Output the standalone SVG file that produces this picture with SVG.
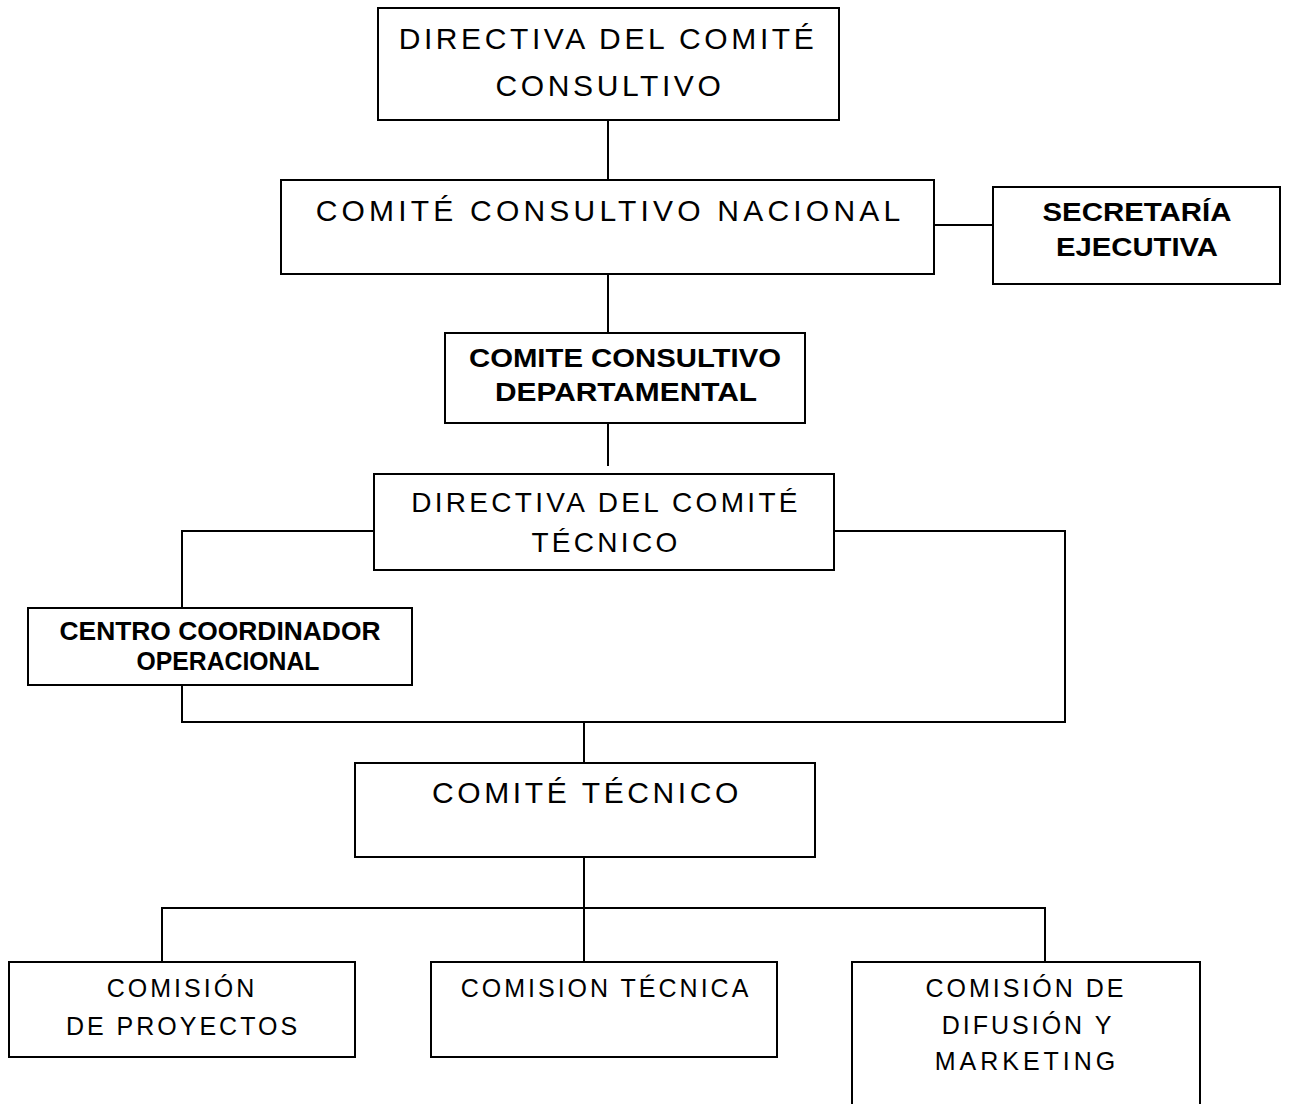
<svg xmlns="http://www.w3.org/2000/svg" width="1290" height="1104" viewBox="0 0 1290 1104">
<style>
.box{fill:#fff;stroke:#000;stroke-width:2}
.ln{fill:none;stroke:#000;stroke-width:2}
.t{font-family:"Liberation Sans",Arial,sans-serif;fill:#000;text-anchor:middle}
.r30{font-size:30px;letter-spacing:3.6px}
.r28{font-size:28px;letter-spacing:3.3px}
.r25{font-size:25px;letter-spacing:3px}
.b{font-family:"Liberation Sans Narrow","Arial Narrow","Liberation Sans",sans-serif;font-weight:bold;font-size:26px;fill:#000;text-anchor:middle}
</style>
<rect width="1290" height="1104" fill="#fff"/>
<g id="connectors">
<line class="ln" x1="608" y1="120" x2="608" y2="180"/>
<line class="ln" x1="934" y1="225" x2="993" y2="225"/>
<line class="ln" x1="608" y1="274" x2="608" y2="333"/>
<line class="ln" x1="608" y1="423" x2="608" y2="466"/>
<polyline class="ln" points="374,531 182,531 182,608"/>
<polyline class="ln" points="182,685 182,722 1065,722 1065,531 834,531"/>
<line class="ln" x1="584" y1="722" x2="584" y2="763"/>
<line class="ln" x1="584" y1="857" x2="584" y2="965"/>
<polyline class="ln" points="162,965 162,908 1045,908 1045,965"/>
</g>
<g id="directiva-consultivo">
<rect class="box" x="378" y="8" width="461" height="112"/>
<text class="t r30" x="608" y="49">DIRECTIVA DEL COMITÉ</text>
<text class="t r30" x="610" y="96">CONSULTIVO</text>
</g>
<g id="comite-nacional">
<rect class="box" x="281" y="180" width="653" height="94"/>
<text class="t r30" x="610" y="221" style="letter-spacing:4.2px">COMITÉ CONSULTIVO NACIONAL</text>
</g>
<g id="secretaria">
<rect class="box" x="993" y="187" width="287" height="97"/>
<text class="b" x="1137" y="221" textLength="189" lengthAdjust="spacingAndGlyphs">SECRETARÍA</text>
<text class="b" x="1137" y="256" textLength="162" lengthAdjust="spacingAndGlyphs">EJECUTIVA</text>
</g>
<g id="comite-departamental">
<rect class="box" x="445" y="333" width="360" height="90"/>
<text class="b" x="625" y="367" textLength="312" lengthAdjust="spacingAndGlyphs">COMITE CONSULTIVO</text>
<text class="b" x="626" y="401" textLength="262" lengthAdjust="spacingAndGlyphs">DEPARTAMENTAL</text>
</g>
<g id="directiva-tecnico">
<rect class="box" x="374" y="474" width="460" height="96"/>
<text class="t r28" x="606" y="512">DIRECTIVA DEL COMITÉ</text>
<text class="t r28" x="606" y="552">TÉCNICO</text>
</g>
<g id="centro-coordinador">
<rect class="box" x="28" y="608" width="384" height="77"/>
<text class="b" x="220" y="640" textLength="321" lengthAdjust="spacingAndGlyphs">CENTRO COORDINADOR</text>
<text class="b" x="228" y="670" textLength="183" lengthAdjust="spacingAndGlyphs">OPERACIONAL</text>
</g>
<g id="comite-tecnico">
<rect class="box" x="355" y="763" width="460" height="94"/>
<text class="t r30" x="587" y="803">COMITÉ TÉCNICO</text>
</g>
<g id="comision-proyectos">
<rect class="box" x="9" y="962" width="346" height="95"/>
<text class="t r25" x="182" y="997">COMISIÓN</text>
<text class="t r25" x="183" y="1035">DE PROYECTOS</text>
</g>
<g id="comision-tecnica">
<rect class="box" x="431" y="962" width="346" height="95"/>
<text class="t r25" x="606" y="997">COMISION TÉCNICA</text>
</g>
<g id="comision-difusion">
<rect class="box" x="852" y="962" width="348" height="150"/>
<text class="t r25" x="1026" y="997">COMISIÓN DE</text>
<text class="t r25" x="1028" y="1034">DIFUSIÓN Y</text>
<text class="t r25" x="1027" y="1070" style="letter-spacing:4px">MARKETING</text>
</g>
</svg>
